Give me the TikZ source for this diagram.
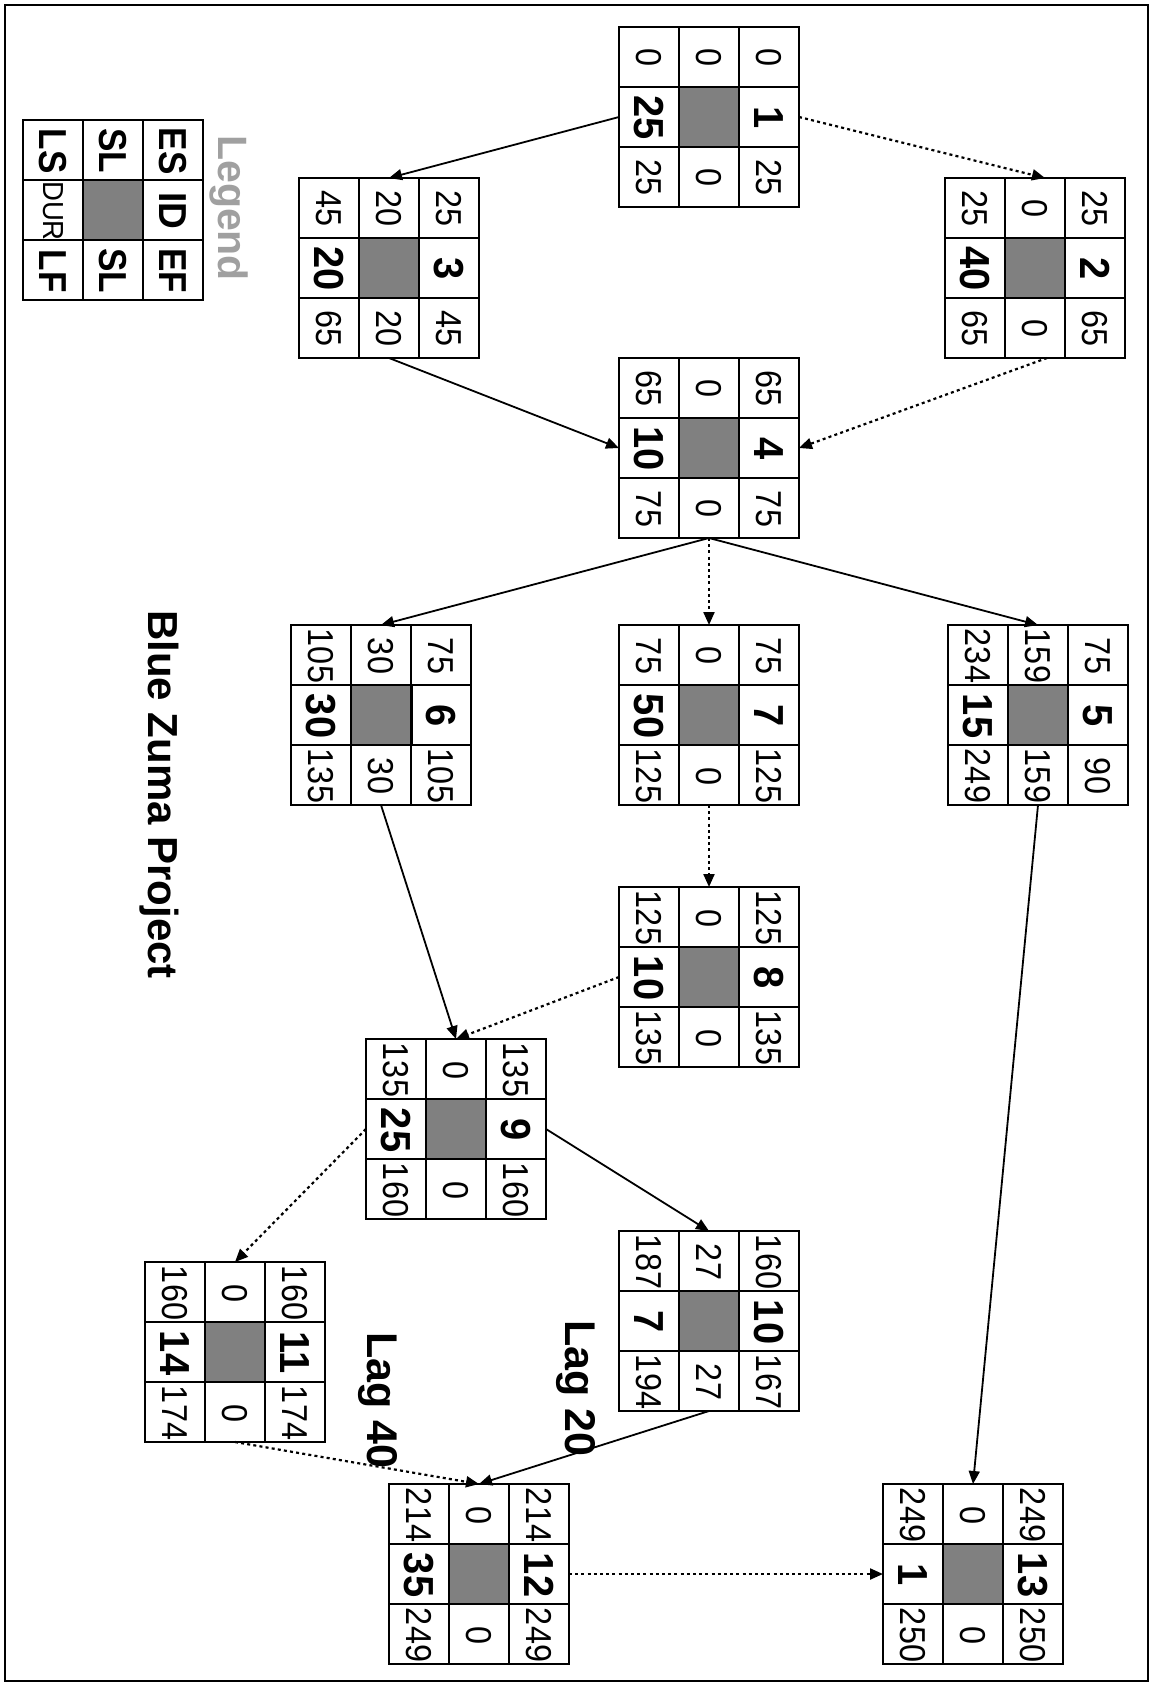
\documentclass[tikz,border=0pt]{standalone}
\usepackage{fontspec}
\setmainfont{Liberation Sans}
\newfontfamily\numfont[FakeStretch=0.9]{Liberation Sans}
\newfontfamily\bignumfont[FakeStretch=0.95]{Liberation Sans}
\usetikzlibrary{arrows.meta,calc}
\definecolor{cellgray}{RGB}{128,128,128}
\definecolor{leggray}{RGB}{160,160,160}
\tikzset{
  boxframe/.style={draw, line width=1.5pt, minimum width=180pt, minimum height=180pt, inner sep=0pt, outer sep=0pt, anchor=north west},
  gridline/.style={line width=1.5pt},
  numtxt/.style={rotate=-90, inner sep=0pt, font=\numfont\fontsize{36}{36}\selectfont},
  bignum/.style={rotate=-90, inner sep=0pt, font=\bignumfont\bfseries\fontsize{42}{42}\selectfont},
  titletxt/.style={rotate=-90, anchor=base west, inner sep=0pt, font=\bfseries\fontsize{42}{42}\selectfont},
  solidarrow/.style={line width=1.8pt, -{Triangle[length=13pt,width=11pt]}},
  dotarrow/.style={line width=2.2pt, dash pattern=on 3pt off 3.2pt, -{Triangle[length=13pt,width=11pt]}}
}
\newcommand\actbox[9]{%
  \node[boxframe] (#1) at #2 {};
  \begin{scope}[shift={(#1.north west)}]
    \fill[cellgray] (60,60) rectangle (120,120);
    \draw[gridline] (60,0) -- (60,180) (120,0) -- (120,180) (0,60) -- (180,60) (0,120) -- (180,120);
    \node[numtxt] (#1-es) at (150,31) {#3};
    \node[bignum] (#1-id) at (150,91) {#4};
    \node[numtxt] (#1-ef) at (150,151) {#5};
    \node[numtxt] (#1-sla) at (90,31) {#6};
    \node[numtxt] (#1-slb) at (90,151) {#6};
    \node[numtxt] (#1-ls) at (30,31) {#7};
    \node[bignum] (#1-dur) at (30,91) {#8};
    \node[numtxt] (#1-lf) at (30,151) {#9};
  \end{scope}%
}
\newcommand\lgb{\bfseries\fontsize{39}{39}\selectfont}
\newcommand\lgd{\mdseries\fontsize{29}{29}\selectfont}
\begin{document}
\begin{tikzpicture}[x=1pt,y=-1pt]
\useasboundingbox (0,0) rectangle (1151,1684);
\fill[white] (0,0) rectangle (1151,1684);
\draw[line width=2pt] (5,5) rectangle (1148,1681);

% legend
\actbox{legend}{(23,120)}{\lgb ES}{\lgb ID}{\lgb EF}{\lgb SL}{\lgb LS}{\lgd DUR}{\lgb LF}
\node[titletxt, text=leggray, font=\bfseries\fontsize{41}{41}\selectfont] (legtitle) at (218,135) {Legend};

% titles
\node[titletxt] (title) at (148,610) {Blue Zuma Project};
\node[titletxt, font=\bfseries\fontsize{43}{43}\selectfont] (lag20) at (565,1320) {Lag 20};
\node[titletxt, font=\bfseries\fontsize{43}{43}\selectfont] (lag40) at (367,1332) {Lag 40};

% activities
\actbox{n1}{(619,27)}{0}{1}{25}{0}{0}{25}{25}
\actbox{n2}{(945,178)}{25}{2}{65}{0}{25}{40}{65}
\actbox{n3}{(299,178)}{25}{3}{45}{20}{45}{20}{65}
\actbox{n4}{(619,358)}{65}{4}{75}{0}{65}{10}{75}
\actbox{n5}{(948,625)}{75}{5}{90}{159}{234}{15}{249}
\actbox{n7}{(619,625)}{75}{7}{125}{0}{75}{50}{125}
\actbox{n6}{(291,625)}{75}{6}{105}{30}{105}{30}{135}
\draw[line width=3pt] ($(n6.north west)+(120,60)$) -- ($(n6.north west)+(120,120)$);
\actbox{n8}{(619,887)}{125}{8}{135}{0}{125}{10}{135}
\actbox{n9}{(366,1039)}{135}{9}{160}{0}{135}{25}{160}
\actbox{n10}{(619,1231)}{160}{10}{167}{27}{187}{7}{194}
\actbox{n11}{(145,1262)}{160}{11}{174}{0}{160}{14}{174}
\actbox{n12}{(389,1484)}{214}{12}{249}{0}{214}{35}{249}
\actbox{n13}{(883,1484)}{249}{13}{250}{0}{249}{1}{250}

% connectors
\draw[solidarrow] (n1.west) -- (n3.north);
\draw[dotarrow] (n1.east) -- ($(n2.north)+(10,0)$);
\draw[solidarrow] (n3.south) -- (n4.west);
\draw[dotarrow] ($(n2.south)+(12,0)$) -- (n4.east);
\draw[solidarrow] (n4.south) -- (n5.north);
\draw[dotarrow] (n4.south) -- (n7.north);
\draw[solidarrow] (n4.south) -- (n6.north);
\draw[dotarrow] (n7.south) -- (n8.north);
\draw[solidarrow] (n6.south) -- (n9.north);
\draw[dotarrow] (n8.west) -- (n9.north);
\draw[solidarrow] (n5.south) -- (n13.north);
\draw[solidarrow] (n9.east) -- (n10.north);
\draw[dotarrow] (n9.west) -- (n11.north);
\draw[solidarrow] (n10.south) -- (n12.north);
\draw[dotarrow] (n11.south) -- (n12.north);
\draw[dotarrow] (n12.east) -- (n13.west);
\end{tikzpicture}
\end{document}
